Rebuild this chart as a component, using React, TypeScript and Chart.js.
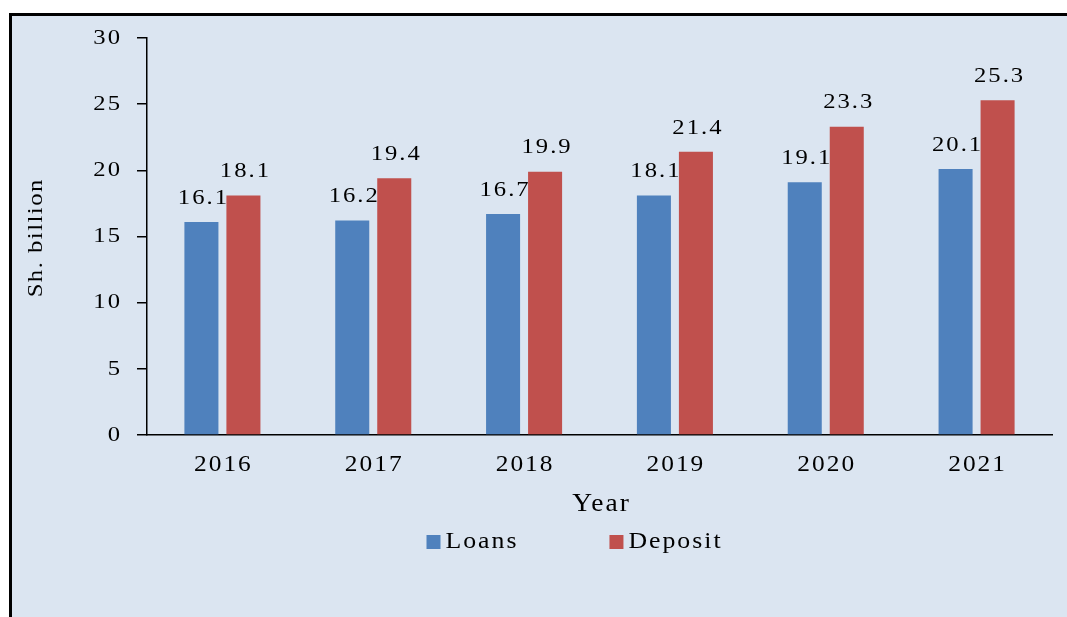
import React, { useEffect, useRef } from 'react';
import { Chart, registerables } from 'chart.js';

Chart.register(...registerables);

const categories = ['2016', '2017', '2018', '2019', '2020', '2021'];
const loans = [16.1, 16.2, 16.7, 18.1, 19.1, 20.1];
const deposit = [18.1, 19.4, 19.9, 21.4, 23.3, 25.3];
const seriesNames = ['Loans', 'Deposit'];
const seriesColors = ['#4f81bd', '#c0504d'];
const yMin = 0;
const yMax = 30;
const yStep = 5;
const xTitle = 'Year';
const yTitle = 'Sh. billion';

const FONT = '"Liberation Serif", "Times New Roman", serif';

function wideText(
  ctx: CanvasRenderingContext2D,
  text: string,
  x: number,
  y: number,
  size: number,
  align: CanvasTextAlign,
  sx: number,
  sp: number,
  rot = 0
) {
  ctx.save();
  ctx.translate(x, y);
  if (rot) ctx.rotate(rot);
  ctx.scale(sx, 1);
  ctx.font = `${size}px ${FONT}`;
  (ctx as any).letterSpacing = `${sp / sx}px`;
  ctx.fillStyle = '#000';
  ctx.textAlign = align;
  ctx.textBaseline = 'middle';
  const off = align === 'center' ? sp / 2 : align === 'right' ? sp : 0;
  ctx.fillText(text, off / sx, 0);
  ctx.restore();
}

function wideWidth(ctx: CanvasRenderingContext2D, text: string, size: number, sx: number, sp: number) {
  ctx.save();
  ctx.font = `${size}px ${FONT}`;
  (ctx as any).letterSpacing = `${sp / sx}px`;
  const w = ctx.measureText(text).width * sx - sp;
  ctx.restore();
  return w;
}

const axisText = {
  id: 'axisText',
  afterDraw(chart: any) {
    const ctx = chart.ctx;
    const ca = chart.chartArea;
    const ys = chart.scales.y;
    const xs = chart.scales.x;
    ys.ticks.forEach((t: any) => {
      wideText(ctx, String(t.value), ca.left - 27, ys.getPixelForValue(t.value), 22, 'right', 1.12, 2);
    });
    chart.data.labels.forEach((lab: string, i: number) => {
      wideText(ctx, lab, xs.getPixelForTick(i), ca.bottom + 30, 23.5, 'center', 1.08, 2);
    });
    wideText(ctx, xTitle, (ca.left + ca.right) / 2 + 1, ca.bottom + 70, 24.5, 'center', 1.12, 2);
    wideText(ctx, yTitle, 24, (ca.top + ca.bottom) / 2 + 2, 22, 'center', 1.12, 1.5, -Math.PI / 2);
  },
};

const valueLabels = {
  id: 'valueLabels',
  afterDatasetsDraw(chart: any) {
    const ctx = chart.ctx;
    chart.data.datasets.forEach((ds: any, i: number) => {
      const meta = chart.getDatasetMeta(i);
      meta.data.forEach((bar: any, j: number) => {
        wideText(ctx, Number(ds.data[j]).toFixed(1), bar.x + 1, bar.y - 24, 22, 'center', 1.12, 2);
      });
    });
  },
};

const customLegend = {
  id: 'customLegend',
  afterDraw(chart: any) {
    const ctx = chart.ctx;
    const ca = chart.chartArea;
    let x = (ca.left + ca.right) / 2 - 173;
    const y = ca.bottom + 107;
    const size = 23;
    const sx = 1.12;
    const sp = 2;
    chart.data.datasets.forEach((ds: any) => {
      ctx.save();
      ctx.fillStyle = ds.backgroundColor;
      ctx.fillRect(x, y - 7, 14, 14);
      ctx.restore();
      const w = wideWidth(ctx, ds.label, size, sx, sp);
      wideText(ctx, ds.label, x + 19, y, size, 'left', sx, sp);
      x += 19 + w + 93;
    });
  },
};

export default function App() {
  const ref = useRef<HTMLCanvasElement | null>(null);

  useEffect(() => {
    if (!ref.current) return;
    const chart = new Chart(ref.current, {
      type: 'bar',
      data: {
        labels: categories,
        datasets: [
          {
            label: seriesNames[0],
            data: loans,
            backgroundColor: seriesColors[0],
            categoryPercentage: 0.557,
            barPercentage: 0.81,
          },
          {
            label: seriesNames[1],
            data: deposit,
            backgroundColor: seriesColors[1],
            categoryPercentage: 0.557,
            barPercentage: 0.81,
          },
        ],
      },
      options: {
        animation: false,
        responsive: false,
        layout: { padding: { left: 0, right: 15, top: 22, bottom: 82 } },
        plugins: {
          legend: { display: false },
          tooltip: { enabled: false },
        },
        scales: {
          x: {
            grid: { display: false, drawTicks: false },
            border: { display: true, color: '#000', width: 1.5 },
            ticks: { display: false },
            title: { display: false },
            afterFit(scale: any) {
              scale.height = 100;
            },
          },
          y: {
            min: yMin,
            max: yMax,
            grid: {
              display: true,
              drawOnChartArea: false,
              drawTicks: true,
              tickLength: 10,
              color: '#000',
              lineWidth: 1.5,
            },
            border: { display: true, color: '#000', width: 1.5 },
            ticks: { display: false, stepSize: yStep },
            title: { display: false },
            afterFit(scale: any) {
              scale.width = 135;
            },
          },
        },
      },
      plugins: [valueLabels, axisText, customLegend],
    });
    return () => chart.destroy();
  }, []);

  return (
    <div
      style={{
        position: 'absolute',
        left: 0,
        top: 0,
        width: 1067,
        height: 617,
        background: '#fff',
        overflow: 'hidden',
      }}
    >
      <div
        style={{
          position: 'absolute',
          left: 9,
          top: 13,
          width: 1058,
          height: 604,
          boxSizing: 'border-box',
          borderLeft: '3px solid #000',
          borderTop: '3px solid #000',
          background: '#dbe5f1',
        }}
      >
        <canvas ref={ref} width={1055} height={601} style={{ display: 'block' }} />
      </div>
    </div>
  );
}
